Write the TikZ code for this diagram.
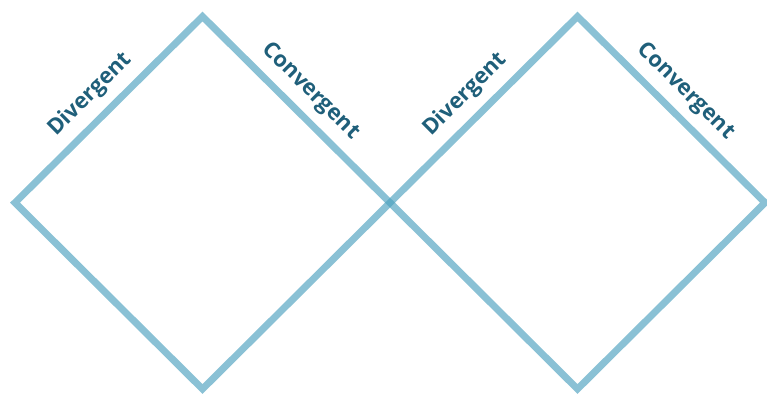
\documentclass[tikz,border=0pt]{standalone}
\usepackage{fontspec}
\setmainfont{Open Sans}
\definecolor{diamondblue}{RGB}{75,160,190}
\definecolor{labelteal}{RGB}{31,95,122}
\tikzset{
    phase/.style={draw=diamondblue, line width=7pt, draw opacity=0.65},
    phaselabel/.style={sloped, above=8pt, inner sep=1pt, text=labelteal,
        font=\fontsize{22}{22}\selectfont\bfseries},
}
\begin{document}
\begin{tikzpicture}[x=1pt, y=-1pt]
        \useasboundingbox (0,0) rectangle (767,393);

        \coordinate (l1) at (15, 202.7);
        \coordinate (t1) at (202.5, 16.5);
        \coordinate (mid) at (390, 202.7);
        \coordinate (b1) at (202.5, 389);
        \coordinate (t2) at (577.5, 16.5);
        \coordinate (r2) at (765, 202.7);
        \coordinate (b2) at (577.5, 389);

        \draw[phase] (l1) -- node[phaselabel, pos=0.49] (div1) {Divergent}
            (t1) -- node[phaselabel, pos=0.49] (con1) {Convergent}
            (mid) -- (b1) -- cycle;
        \draw[phase] (mid) -- node[phaselabel, pos=0.49] (div2) {Divergent}
            (t2) -- node[phaselabel, pos=0.49] (con2) {Convergent}
            (r2) -- (b2) -- cycle;

    \end{tikzpicture}
\end{document}
